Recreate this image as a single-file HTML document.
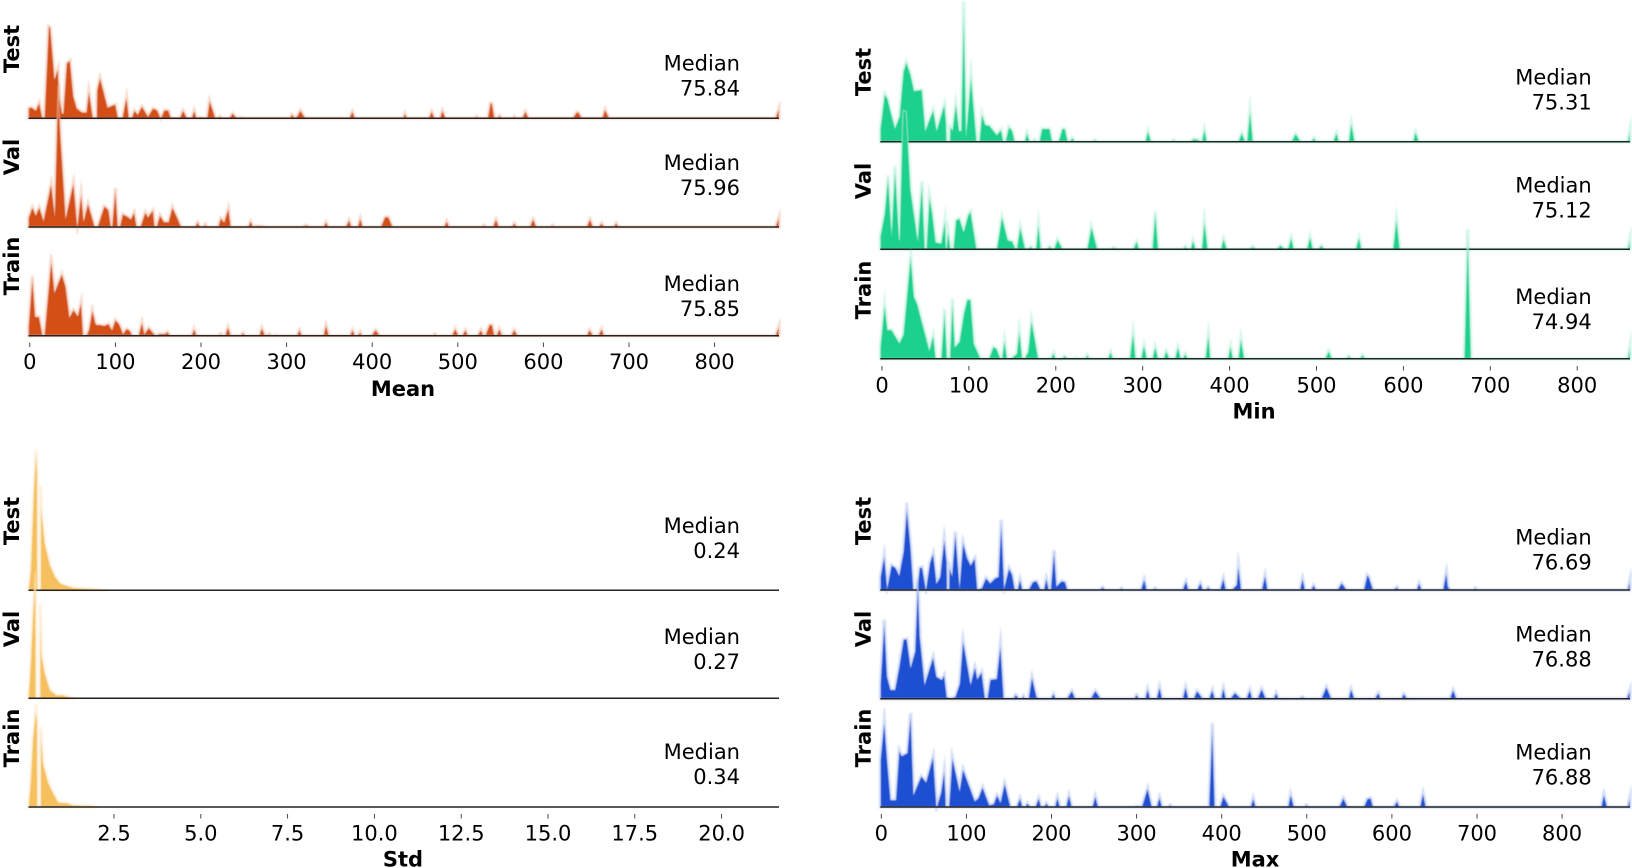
<!DOCTYPE html>
<html lang="en">
<head>
<meta charset="utf-8">
<title>Ridge distributions</title>
<style>
html,body{margin:0;padding:0;background:#fff;width:1632px;height:868px;overflow:hidden}
svg{display:block}
text{font-family:"DejaVu Sans","Liberation Sans",sans-serif;font-size:21px;fill:#000;filter:url(#softText)}
.b{font-weight:bold}
</style>
</head>
<body>
<svg id="chart" width="1632" height="868" viewBox="0 0 1632 868" xmlns="http://www.w3.org/2000/svg">
<defs>
<filter id="soft" x="-5%" y="-5%" width="110%" height="110%"><feGaussianBlur stdDeviation="0.45"/></filter>
<filter id="halo" x="-5%" y="-5%" width="110%" height="110%"><feGaussianBlur stdDeviation="0.8"/></filter>
<filter id="softText" x="-5%" y="-10%" width="110%" height="120%"><feGaussianBlur stdDeviation="0.3"/></filter>
</defs>
</svg>
<script>
// Series: [value, density] pairs
const meanTest=[[-2,10],[2,11],[7,8],[11,16],[15,0],[17,0],[22,92],[24,91],[29,40],[33,50],[34.5,20],[38,5],[39,5],[43,55],[47,58],[51,22],[55,10],[61,6],[66,6],[69,28],[73,5],[74,0],[78,0],[78.5,28],[82,41],[91,11],[100,14],[103,1],[108,0],[113,22],[116,0],[119,0],[122,8],[126,4],[131,12],[138,2],[144,10],[149,8],[153,0],[157,8],[162,8],[165,0],[175,0],[179,8],[184,0],[189,0],[192,8],[195,0],[199,1],[203,0],[207,0],[210,18],[217,0],[220,0],[222,2],[225,0],[233,0],[237,5],[242,0],[247,1],[251,0],[304,0],[306,4],[310,0],[313,3],[316,8],[322,0],[373,0],[377,7],[380,0],[436,0],[438,5],[441,0],[466,0],[469.5,7],[473,0],[479,0],[482,8],[486,0],[520,0],[522,2],[524,0],[535,0],[538,15],[540,15],[543,0],[546,0],[549,3],[551,0],[564,0],[566,2],[568,0],[575,0],[579,7],[583,0],[634,0],[639,6],[641,6],[645,0],[668.5,0],[672,9],[677,0],[871,0],[876,10]];
const meanVal=[[-2,9],[3,20],[7,12],[11,20],[16,7],[25,44],[29,15],[33,142],[36,90],[42,10],[51,45],[55.5,2],[60,34],[63,7],[68,24],[76,0],[79,0],[87,21],[92,17],[95,0],[96,0],[100,39],[103,0],[105,0],[108.5,13],[115,10],[118,8],[122,15],[125,0],[129,0],[135,15],[138,10],[144,17],[146,0],[148,0],[152,12],[157,5],[162,5],[166.5,20],[172,10],[177,0],[193,0],[196,5],[199,0],[203,0],[205,3],[207,0],[220,0],[223,9],[227,5],[232,19],[235,0],[255,0],[258,6],[261,0],[265,1],[271,1],[277,0],[318,0],[323,2],[327,0],[343,0],[346,5],[349,0],[369,0],[373,7],[376,0],[383,0],[386,9],[389,0],[410,0],[415,10],[419,10],[424,0],[484,0],[487,6],[490,0],[528,0],[531,2],[533,0],[541,0],[544.6,8],[548,0],[563,0],[566,4],[569,0],[584,0],[588,8],[592,0],[608,0],[610.5,2],[613,0],[650.5,0],[654.5,8],[658,0],[664.6,0],[668,4],[671,0],[682,0],[685,4],[688,0],[871,0],[876,10]];
const meanTrain=[[-2,9],[3,60],[6.5,19],[11,19],[15,0],[17,0],[25,77],[29,44],[37.5,62],[42,49],[46.5,19],[51,26],[56,20],[60,34],[62.5,0],[66,0],[69,6],[73,26],[77,12],[78,11],[82,11],[87,10],[92,12],[96,6],[100,16],[105,11],[109,2],[113,7],[117,5],[120,0],[127,0],[131,14],[134,2],[139,8],[145,2],[148,0],[151,2],[158,2],[161,4],[164,0],[189,0],[192,7],[195,0],[220,0],[223,2],[225,0],[228,0],[231.5,9],[235,0],[246,0],[249,3],[252,0],[268,0],[271,8],[275,0],[277,0],[280,2],[282,0],[286,0],[288,1],[291,0],[312,0],[315,6],[318,0],[343,0],[346,11],[349.5,0],[374,0],[377,6],[380,0],[383,0],[386,4],[388,0],[399,0],[404,6],[409,0],[471,0],[473,2],[476,0],[493,0],[497,7],[501,0],[505,0],[509,6],[512,0],[523,0],[527,6],[530,0],[532,0],[537,11],[540,11],[543,0],[545,0],[548.5,7],[552,0],[562,0],[566,6],[570,0],[650.5,0],[654,6],[658,0],[664,0],[668,7],[671,0],[871,0],[876,10]];

const minTest=[[-2,13],[3,48],[6.5,43],[11,27],[15,14],[20,25],[24.5,70],[28,80],[33,67],[37,51],[46,52],[50,12],[59,32],[63,12],[72,38],[74,18],[74.5,0],[78,0],[78.5,15],[81,12],[85,39],[89,11],[91,11],[94,140],[97,11],[102.4,67],[109,0],[112,0],[115,28],[119,17],[124,16],[132,7],[137,12],[140,0],[142,0],[146,15],[150,11],[153,0],[164,0],[167,9],[170,0],[173,0],[176,2],[178,0],[181,0],[184,13],[193,13],[196,0],[203,0],[207.5,13],[210.6,13],[214,0],[216,0],[219,4],[222,0],[242,0],[245,2],[248,0],[303,0],[306,11],[310,0],[333,0],[336,2],[338,0],[354,0],[359,3],[364,2],[367,0],[368,0],[371,13],[374,0],[410,0],[414,9],[418,0],[420,0],[423.5,32],[427,0],[471,0],[476,8],[482,0],[494,0],[497,4],[500,0],[519,0],[523,9],[526,0],[537,0],[540,19],[544,0],[611,0],[614,10],[618,0],[858,0],[861,12]];
const minVal=[[-2,13],[3,36],[7,74],[11,19],[15,83],[20,9],[24,139],[28,138],[33,59],[41,11],[46,68],[49.5,0],[51,0],[54.5,54],[58,36],[62,7],[68,6],[72.5,30],[74,0],[76,19],[79,0],[82,0],[85,29],[89,31],[94,18],[99,34],[102,38],[109,0],[132,0],[138,33],[145,9],[150,8],[154,0],[155,0],[159,23],[165,0],[168,0],[171,3],[174,0],[177,0],[180,26],[183,0],[189.5,0],[193,3],[196,0],[198,0],[202,10],[208,0],[236,0],[241,23],[248,0],[263,0],[266.6,2],[270,0],[289,0],[293,8],[296,0],[311,0],[314.5,38],[318,0],[347,0],[349,3],[352,0],[355,0],[358,9],[361,0],[368,0],[371,29],[375,0],[390,0],[393,11],[397,0],[423.5,0],[426.6,3],[430,0],[454,0],[458.4,4],[464,0],[467,0],[471,12],[474,0],[489,0],[492.6,13],[496,0],[502,0],[505.6,4],[509,0],[545,0],[549,12],[552,0],[588,0],[592,31],[596,0],[858,0],[861,11]];
const minTrain=[[-2,12],[3,55],[6.5,29],[11,29],[20,16],[24.5,24],[33,104],[37,62],[41,54],[46,37],[50,24],[54.5,9],[59,24],[62,0],[68,0],[72,50],[75,0],[78,0],[81,60],[84,12],[89,17],[94,45],[98,59],[102,59],[106,15],[113,1],[116,0],[123,0],[128,12],[132,10],[136.5,0],[138,0],[141,19],[144,0],[148,0],[155,5],[158,29],[161.5,0],[164,0],[168,7],[172,39],[180,0],[194,0],[197.5,6],[200,0],[207,0],[210,3],[214,0],[222,0],[224,1],[226,0],[234,0],[236,4],[239,0],[260,0],[263,7],[266,0],[285,0],[289,27],[292,0],[298,0],[301.5,14],[305,0],[311,0],[314.5,12],[318,0],[324,0],[327,8],[331,0],[337,0],[340.6,12],[344,0],[346,0],[349,5],[352,0],[372,0],[375.6,25],[378,0],[398,0],[401,13],[404,0],[410,0],[413,21],[417,0],[510,0],[514,8],[518,0],[534,0],[537,3],[540,0],[550,0],[553,4],[556,0],[670,0],[674,130],[678,0],[858,0],[861,13]];

const stdTest=[[0.04,1],[0.1,20],[0.18,94],[0.25,141],[0.29,118],[0.295,0],[0.385,0],[0.39,105],[0.42,77],[0.51,47],[0.66,25],[0.8,14],[0.95,7],[1.14,4.5],[1.33,2.5],[1.62,1.8],[2.1,0.8],[2.3,0]];
const stdVal=[[0.04,2],[0.1,35],[0.16,82],[0.22,115],[0.24,127],[0.25,0],[0.37,0],[0.375,95],[0.42,42],[0.51,25],[0.66,8],[0.85,3],[0.99,3.5],[1.19,1.5],[1.35,0]];
const stdTrain=[[0.04,1],[0.1,27],[0.16,67],[0.25,98],[0.29,84],[0.295,0],[0.385,0],[0.39,80],[0.46,44],[0.61,24],[0.75,14],[0.9,4.5],[1.14,4],[1.33,1.8],[1.81,1.3],[2.05,0]];

const maxTest=[[-1,13],[3.5,35],[7,3],[12,25],[17,22],[21,15],[26,38],[30,83],[34.5,43],[38,0],[42,0],[45,22],[48,23],[52.5,1],[57,27],[61,37],[65,7],[69,13],[74,52],[77,28],[77.5,0],[79.5,0],[80,23],[83,15],[87,58],[92,5],[96,48],[101,32],[105,25],[110,32],[113,0],[118,2],[123,12],[128,7],[134,12],[137.5,13],[141,70],[144.5,3],[150,22],[154,15],[157,0],[160,0],[163,11],[166,0],[173,0],[178,8],[182.5,9],[187.6,0],[191,0],[194,12],[197,0],[199,0],[203,40],[206,4],[212,9],[216,8],[219,0],[257,0],[260,3],[263,0],[280,0],[282,2],[285,0],[305,0],[309,11],[312,0],[319,0],[322,2],[324,0],[354,0],[358,9],[361,0],[371,0],[375,7],[378,0],[381.5,0],[384,3],[387,0],[398,0],[402,12],[405,0],[411.7,0],[417.5,5],[419.6,25],[423,0],[447,0],[451,15],[454,0],[492,0],[495,12],[498,0],[505,0],[508,5],[511,0],[536,0],[541,7],[547,0],[567,0],[571,15],[573,13],[578,0],[602,0],[606,3],[608,0],[629,0],[632,7],[635,0],[660,0],[664,18],[666,3],[669,0],[696,0],[698,2],[700,0],[877,0],[880,10]];
const maxVal=[[-1,15],[3.5,79],[7,22],[11,9],[16,9],[21,32],[26,59],[30,60],[34.5,32],[39.6,47],[43,119],[45.4,62],[51,15],[61,42],[65,22],[71,19],[74,24],[77,2],[81,0],[87,2],[92,15],[96,59],[101.5,32],[105,15],[110,32],[113,20],[118,27],[122,0],[124.5,0],[128,19],[135.5,20],[140,55],[144,0],[155,0],[158,4],[162,0],[165,0],[167,3],[169,0],[173,0],[177,22],[182.5,2],[186,0],[199,0],[202.5,5],[205,0],[218,0],[224,8],[228,0],[246,0],[251.5,8],[258,0],[297,0],[300,4],[303,0],[310,0],[313,10],[316,0],[323.5,0],[327,12],[330,0],[354,0],[357.6,12],[361,0],[367,0],[371,8],[378,0],[385,0],[389,9],[392,0],[399,0],[402,11],[405,0],[410,0],[415.6,6],[423,0],[429,0],[433,9],[436,0],[442,0],[447,10],[452,0],[461,0],[464,6],[467,0],[491,0],[495,2],[498,0],[517,0],[523,12],[529,0],[549,0],[552,10],[556,0],[580,0],[584,6],[587,0],[611,0],[614,5],[618,0],[668,0],[672,9],[676,0],[876,0],[880,9]];
const maxTrain=[[-1,47],[3.5,87],[7,47],[11,7],[17,7],[21,57],[24,51],[30.5,54],[34.5,94],[38,13],[47,31],[52.5,25],[61,51],[65,0],[70,14],[74,37],[75.6,12],[76,0],[79.5,0],[83.4,50],[92,17],[96,38],[110,6],[114,9],[119,20],[127,2],[132,3],[136,12],[140,5],[145,24],[152,0],[159,0],[163,9],[166,0],[169,0],[171.6,4],[175,0],[181,0],[185,9],[188,0],[191,0],[194,4],[197,0],[204,0],[207,10],[210,0],[217,0],[220.5,12],[224,0],[248,0],[251.5,11],[255,0],[298,0],[300,1],[306,0],[313,19],[318,0],[323.5,0],[327,10],[330,0],[337,0],[339.6,2],[342,0],[385,0],[389,84],[392,0],[398,0],[402,11],[409,0],[434,0],[437,9],[440,0],[478,0],[481,13],[485,0],[497,0],[499.5,2],[502,0],[538,0],[543,9],[548,0],[567,0],[571,8],[575,9],[578,0],[602,0],[606,6],[609,0],[633,0],[636.6,14],[640,0],[846,0],[849,13],[853,0],[877,0],[880,10]];

// Tick labels and printed values
const ridgeNames=['Test','Val','Train'];
const hundredTicks=[0,100,200,300,400,500,600,700,800];
const stdTicks=[2.5,5,7.5,10,12.5,15,17.5,20];
const meanMedians=['75.84','75.96','75.85'];
const minMedians=['75.31','75.12','74.94'];
const stdMedians=['0.24','0.27','0.34'];
const maxMedians=['76.69','76.88','76.88'];

const svg=document.getElementById('chart');
const NS='http://www.w3.org/2000/svg';
function make(tag,attrs,parent){
  const el=document.createElementNS(NS,tag);
  for(const k in attrs) el.setAttribute(k,attrs[k]);
  parent.appendChild(el);
  return el;
}
function drawPanel(p){
  const panel=make('g',{},svg);
  
  
  const xScale=v=>Math.min(p.right,Math.max(p.left,p.x0+v*p.pxPerUnit));
  const yScale=(d,base)=>base-d*p.pxPerDensity;
  p.series.forEach((series,i)=>{
    const base=p.baselines[i];
    const name=ridgeNames[i];
    const low=name.toLowerCase();
    const pts=series.map(s=>xScale(s[0]).toFixed(2)+','+yScale(s[1],base).toFixed(2));
    const d='M'+xScale(series[0][0]).toFixed(2)+','+base+' L'+pts.join(' L')+' L'+xScale(series[series.length-1][0]).toFixed(2)+','+base+' Z';
    const halo=make('path',{d:d,fill:'none',stroke:p.color,'stroke-width':3,'stroke-opacity':0.22,'stroke-linejoin':'miter','stroke-miterlimit':12,filter:'url(#halo)'},panel);
    
    
    const area=make('path',{d:d,fill:p.color,stroke:'#fff','stroke-width':0.8,'stroke-opacity':0.55,'stroke-linejoin':'miter','stroke-miterlimit':20,filter:'url(#soft)'},panel);
    
    
    const line=make('line',{x1:p.left,x2:p.right,y1:base,y2:base,stroke:'#222','stroke-width':1.5},panel);
    
    
    const yl=make('text',{'class':'b','text-anchor':'middle',transform:'translate('+p.yLabelX+','+p.yLabelY[i]+') rotate(-90)'},panel);
    yl.textContent=name;
    
    
    const m1=make('text',{x:p.medianRight,y:p.medianY[i],'text-anchor':'end'},panel);
    m1.textContent='Median';
    
    
    const m2=make('text',{x:p.medianRight,y:p.medianY[i]+25,'text-anchor':'end'},panel);
    m2.textContent=p.medians[i];
    
    
  });
  p.ticks.forEach(t=>{
    const px=p.x0+t*p.pxPerUnit;
    const tick=make('line',{x1:px,x2:px,y1:p.tickY,y2:p.tickY+4.5,stroke:'#333','stroke-width':0.9},panel);
    
    
    const lab=make('text',{x:px,y:p.tickLabelY,'text-anchor':'middle'},panel);
    lab.textContent=p.fmt(t);
    
    
  });
  const xt=make('text',{'class':'b',x:p.xTitleX,y:p.xTitleY,'text-anchor':'middle'},panel);
  xt.textContent=p.title;
  
  
}
const plain=t=>String(t);
drawPanel({key:'mean',title:'Mean',color:'#d34f19',series:[meanTest,meanVal,meanTrain],medians:meanMedians,ticks:hundredTicks,fmt:plain,
  left:28.5,right:779,x0:29.8,pxPerUnit:0.856,pxPerDensity:1,baselines:[118.3,227,335.7],
  yLabelX:19,yLabelY:[49,157,266],medianRight:740,medianY:[70.7,170,291],tickY:342.5,tickLabelY:369,xTitleX:403,xTitleY:396});
drawPanel({key:'min',title:'Min',color:'#1ad18d',series:[minTest,minVal,minTrain],medians:minMedians,ticks:hundredTicks,fmt:plain,
  left:880.3,right:1630,x0:882,pxPerUnit:0.869,pxPerDensity:1,baselines:[141.7,249.3,358.7],
  yLabelX:870.7,yLabelY:[72,181,290],medianRight:1591.7,medianY:[84.3,192.7,304],tickY:366,tickLabelY:392.7,xTitleX:1254,xTitleY:418.5});
drawPanel({key:'std',title:'Std',color:'#f6c05f',series:[stdTest,stdVal,stdTrain],medians:stdMedians,ticks:stdTicks,fmt:t=>t.toFixed(1),
  left:28.5,right:779,x0:27.2,pxPerUnit:34.72,pxPerDensity:1,baselines:[590.3,698.3,807],
  yLabelX:19,yLabelY:[521,629,738],medianRight:740,medianY:[533,644,759],tickY:814,tickLabelY:840.7,xTitleX:403,xTitleY:866.5});
drawPanel({key:'max',title:'Max',color:'#1a50d1',series:[maxTest,maxVal,maxTrain],medians:maxMedians,ticks:hundredTicks,fmt:plain,
  left:880.3,right:1630,x0:881.3,pxPerUnit:0.851,pxPerDensity:1,baselines:[590,698.7,807],
  yLabelX:870.7,yLabelY:[521,629,738],medianRight:1591.7,medianY:[544.3,641.7,759.3],tickY:814,tickLabelY:840.7,xTitleX:1255,xTitleY:866.5});
</script>
</body>
</html>
